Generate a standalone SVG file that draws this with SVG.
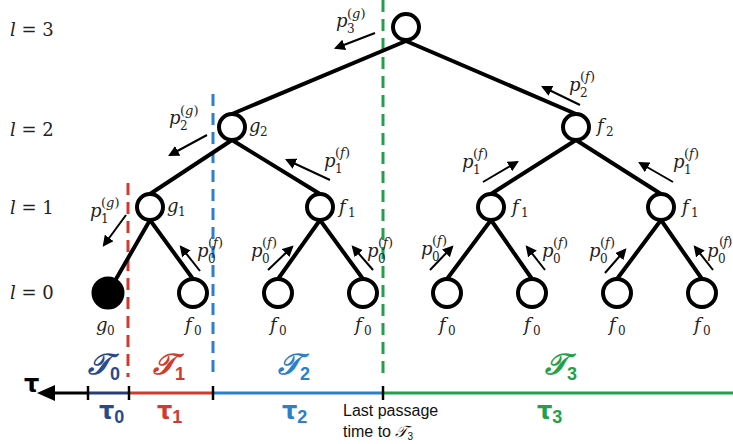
<svg xmlns="http://www.w3.org/2000/svg" width="733" height="444" viewBox="0 0 733 444">
<defs>
<style>
.edge{stroke:#000;stroke-width:4;fill:none;stroke-linecap:round}
.node{fill:#fff;stroke:#000;stroke-width:4}
.leaf0{fill:#000;stroke:#000;stroke-width:3}
.pa{stroke:#000;stroke-width:2;fill:none;marker-end:url(#ah)}
.m{font-family:"DejaVu Serif","Liberation Serif",serif;font-style:italic;font-size:18px;fill:#222}
.mu{font-family:"DejaVu Serif","Liberation Serif",serif;font-size:18px;fill:#222}
.sb{font-family:"DejaVu Serif","Liberation Serif",serif;font-size:12px;fill:#222}
.sp{font-family:"DejaVu Serif","Liberation Serif",serif;font-size:13px;fill:#222}
.dash{stroke-width:3;stroke-dasharray:12 7;fill:none}
.ax{stroke-width:3;fill:none}
.tick{stroke:#000;stroke-width:2.5}
.T{font-family:"DejaVu Serif","DejaVu Sans",serif;font-style:italic;font-weight:bold;font-size:29px}
.tau{font-family:"DejaVu Sans","Liberation Sans",sans-serif;font-weight:bold;font-size:24px}
.tsub{font-family:"Liberation Sans",sans-serif;font-weight:bold;font-size:18px}
.lp{font-family:"Liberation Sans","DejaVu Sans",sans-serif;font-size:16px;fill:#111}
</style>
<marker id="ah" viewBox="0 0 10 10" refX="8" refY="5" markerWidth="5.5" markerHeight="5.5" orient="auto" markerUnits="strokeWidth">
<path d="M0,0 L10,5 L0,10 z" fill="#000"/>
</marker>
</defs>
<rect width="733" height="444" fill="#fff"/>

<g id="separators">
<line class="dash" x1="128" y1="183" x2="128" y2="377" stroke="#d03a2f"/>
<line class="dash" x1="213" y1="94" x2="213" y2="377" stroke="#2d7fcc"/>
<line class="dash" x1="383" y1="0" x2="383" y2="377" stroke="#22a04b"/>
</g>

<g id="connectors">
<line class="edge" x1="406" y1="41" x2="232" y2="114"/>
<line class="edge" x1="406" y1="41" x2="576" y2="114"/>
<line class="edge" x1="232" y1="140" x2="150" y2="194"/>
<line class="edge" x1="232" y1="140" x2="320" y2="194"/>
<line class="edge" x1="576" y1="140" x2="491" y2="194"/>
<line class="edge" x1="576" y1="140" x2="661" y2="194"/>
<line class="edge" x1="150" y1="220" x2="108" y2="293"/>
<line class="edge" x1="150" y1="220" x2="193" y2="279"/>
<line class="edge" x1="320" y1="220" x2="278" y2="279"/>
<line class="edge" x1="320" y1="220" x2="363" y2="279"/>
<line class="edge" x1="491" y1="220" x2="447" y2="279"/>
<line class="edge" x1="491" y1="220" x2="532" y2="279"/>
<line class="edge" x1="661" y1="220" x2="617" y2="279"/>
<line class="edge" x1="661" y1="220" x2="702" y2="279"/>
</g>

<g id="prob-arrows">
<line class="pa" x1="375" y1="33" x2="336" y2="48"/>
<line class="pa" x1="207" y1="135" x2="170" y2="155"/>
<line class="pa" x1="580" y1="105" x2="543" y2="87"/>
<line class="pa" x1="126" y1="215" x2="104" y2="245"/>
<line class="pa" x1="200" y1="271" x2="181" y2="247"/>
<line class="pa" x1="330" y1="180" x2="287" y2="160"/>
<line class="pa" x1="268" y1="270" x2="292" y2="247"/>
<line class="pa" x1="373" y1="270" x2="353" y2="247"/>
<line class="pa" x1="483" y1="182" x2="517" y2="162"/>
<line class="pa" x1="673" y1="182" x2="640" y2="163"/>
<line class="pa" x1="430" y1="270" x2="452" y2="247"/>
<line class="pa" x1="545" y1="270" x2="527" y2="247"/>
<line class="pa" x1="605" y1="273" x2="625" y2="250"/>
<line class="pa" x1="713" y1="270" x2="695" y2="247"/>
</g>

<g id="root"><circle class="node" cx="406" cy="27" r="13"/></g>
<g id="g2"><circle class="node" cx="232" cy="127" r="13"/><text class="m" x="249" y="132">g</text><text class="sb" x="260" y="136">2</text></g>
<g id="f2"><circle class="node" cx="576" cy="127" r="13"/><text class="m" x="597" y="132">f</text><text class="sb" x="606" y="136">2</text></g>
<g id="g1"><circle class="node" cx="150" cy="207" r="13"/><text class="m" x="167" y="212">g</text><text class="sb" x="178" y="216">1</text></g>
<g id="f1a"><circle class="node" cx="320" cy="207" r="13"/><text class="m" x="339" y="213">f</text><text class="sb" x="348" y="217">1</text></g>
<g id="f1b"><circle class="node" cx="491" cy="207" r="13"/><text class="m" x="512" y="213">f</text><text class="sb" x="521" y="217">1</text></g>
<g id="f1c"><circle class="node" cx="661" cy="207" r="13"/><text class="m" x="682" y="213">f</text><text class="sb" x="691" y="217">1</text></g>
<g id="g0"><circle class="leaf0" cx="108" cy="293" r="15"/><text class="m" x="96" y="331">g</text><text class="sb" x="107" y="335">0</text></g>
<g id="f0a"><circle class="node" cx="193" cy="293" r="14"/><text class="m" x="185" y="331">f</text><text class="sb" x="194" y="335">0</text></g>
<g id="f0b"><circle class="node" cx="278" cy="293" r="14"/><text class="m" x="270" y="331">f</text><text class="sb" x="279" y="335">0</text></g>
<g id="f0c"><circle class="node" cx="363" cy="293" r="14"/><text class="m" x="355" y="331">f</text><text class="sb" x="364" y="335">0</text></g>
<g id="f0d"><circle class="node" cx="447" cy="293" r="14"/><text class="m" x="439" y="331">f</text><text class="sb" x="448" y="335">0</text></g>
<g id="f0e"><circle class="node" cx="532" cy="293" r="14"/><text class="m" x="524" y="331">f</text><text class="sb" x="533" y="335">0</text></g>
<g id="f0f"><circle class="node" cx="617" cy="293" r="14"/><text class="m" x="609" y="331">f</text><text class="sb" x="618" y="335">0</text></g>
<g id="f0g"><circle class="node" cx="702" cy="293" r="14"/><text class="m" x="694" y="331">f</text><text class="sb" x="703" y="335">0</text></g>

<g id="levels">
<text class="mu" x="10" y="36"><tspan font-style="italic">l</tspan> = 3</text>
<text class="mu" x="10" y="136"><tspan font-style="italic">l</tspan> = 2</text>
<text class="mu" x="10" y="214"><tspan font-style="italic">l</tspan> = 1</text>
<text class="mu" x="10" y="299"><tspan font-style="italic">l</tspan> = 0</text>
</g>

<g id="prob-labels">
<text class="m" x="336" y="27">p</text><text class="sb" x="347" y="33">3</text><text class="sp" x="347" y="18">(<tspan font-style="italic">g</tspan>)</text>
<text class="m" x="169" y="124">p</text><text class="sb" x="180" y="130">2</text><text class="sp" x="180" y="115">(<tspan font-style="italic">g</tspan>)</text>
<text class="m" x="569" y="91">p</text><text class="sb" x="580" y="97">2</text><text class="sp" x="580" y="81">(<tspan font-style="italic">f</tspan>)</text>
<text class="m" x="90" y="217">p</text><text class="sb" x="101" y="223">1</text><text class="sp" x="101" y="207">(<tspan font-style="italic">g</tspan>)</text>
<text class="m" x="197" y="257">p</text><text class="sb" x="208" y="263">0</text><text class="sp" x="208" y="247">(<tspan font-style="italic">f</tspan>)</text>
<text class="m" x="324" y="167">p</text><text class="sb" x="335" y="173">1</text><text class="sp" x="335" y="157">(<tspan font-style="italic">f</tspan>)</text>
<text class="m" x="251" y="257">p</text><text class="sb" x="262" y="263">0</text><text class="sp" x="262" y="247">(<tspan font-style="italic">f</tspan>)</text>
<text class="m" x="367" y="257">p</text><text class="sb" x="378" y="263">0</text><text class="sp" x="378" y="247">(<tspan font-style="italic">f</tspan>)</text>
<text class="m" x="462" y="168">p</text><text class="sb" x="473" y="174">1</text><text class="sp" x="473" y="158">(<tspan font-style="italic">f</tspan>)</text>
<text class="m" x="673" y="168">p</text><text class="sb" x="684" y="174">1</text><text class="sp" x="684" y="158">(<tspan font-style="italic">f</tspan>)</text>
<text class="m" x="421" y="255">p</text><text class="sb" x="432" y="261">0</text><text class="sp" x="432" y="245">(<tspan font-style="italic">f</tspan>)</text>
<text class="m" x="542" y="257">p</text><text class="sb" x="553" y="263">0</text><text class="sp" x="553" y="247">(<tspan font-style="italic">f</tspan>)</text>
<text class="m" x="589" y="257">p</text><text class="sb" x="600" y="263">0</text><text class="sp" x="600" y="247">(<tspan font-style="italic">f</tspan>)</text>
<text class="m" x="707" y="257">p</text><text class="sb" x="718" y="263">0</text><text class="sp" x="719" y="246" font-size="12" letter-spacing="-0.8">(<tspan font-style="italic">f</tspan>)</text>
</g>

<g id="axis">
<line class="ax" x1="88" y1="393" x2="50" y2="393" stroke="#000"/>
<path d="M37,393 L55,385 L55,401 z" fill="#000"/>
<line class="ax" x1="88" y1="393" x2="129" y2="393" stroke="#2b3a7a"/>
<line class="ax" x1="129" y1="393" x2="213" y2="393" stroke="#d03a2f"/>
<line class="ax" x1="213" y1="393" x2="383" y2="393" stroke="#2d7fcc"/>
<line class="ax" x1="383" y1="393" x2="733" y2="393" stroke="#22a04b"/>
<line class="tick" x1="88" y1="386" x2="88" y2="400"/>
<line class="tick" x1="129" y1="386" x2="129" y2="400"/>
<line class="tick" x1="213" y1="386" x2="213" y2="400"/>
<line class="tick" x1="383" y1="386" x2="383" y2="400"/>
<text class="tau" x="24" y="392" fill="#000">τ</text>
</g>

<g id="segment-labels">
<text class="T" x="88" y="374" fill="#2b4a8a">𝒯<tspan class="tsub" dy="6" font-style="normal">0</tspan></text>
<text class="tau" x="99" y="419" fill="#2b4a8a">τ<tspan class="tsub" dy="4">0</tspan></text>
<text class="T" x="153" y="374" fill="#d03a2f">𝒯<tspan class="tsub" dy="6" font-style="normal">1</tspan></text>
<text class="tau" x="157" y="419" fill="#d03a2f">τ<tspan class="tsub" dy="4">1</tspan></text>
<text class="T" x="278" y="374" fill="#2d7fcc">𝒯<tspan class="tsub" dy="6" font-style="normal">2</tspan></text>
<text class="tau" x="282" y="419" fill="#2d7fcc">τ<tspan class="tsub" dy="4">2</tspan></text>
<text class="T" x="545" y="374" fill="#22a04b">𝒯<tspan class="tsub" dy="6" font-style="normal">3</tspan></text>
<text class="tau" x="537" y="419" fill="#22a04b">τ<tspan class="tsub" dy="4">3</tspan></text>
<text class="lp" x="343" y="416">Last passage</text>
<text class="lp" x="343" y="437">time to <tspan font-family="DejaVu Serif,serif" font-style="italic">𝒯</tspan><tspan font-size="10" dy="3">3</tspan></text>
</g>
</svg>
